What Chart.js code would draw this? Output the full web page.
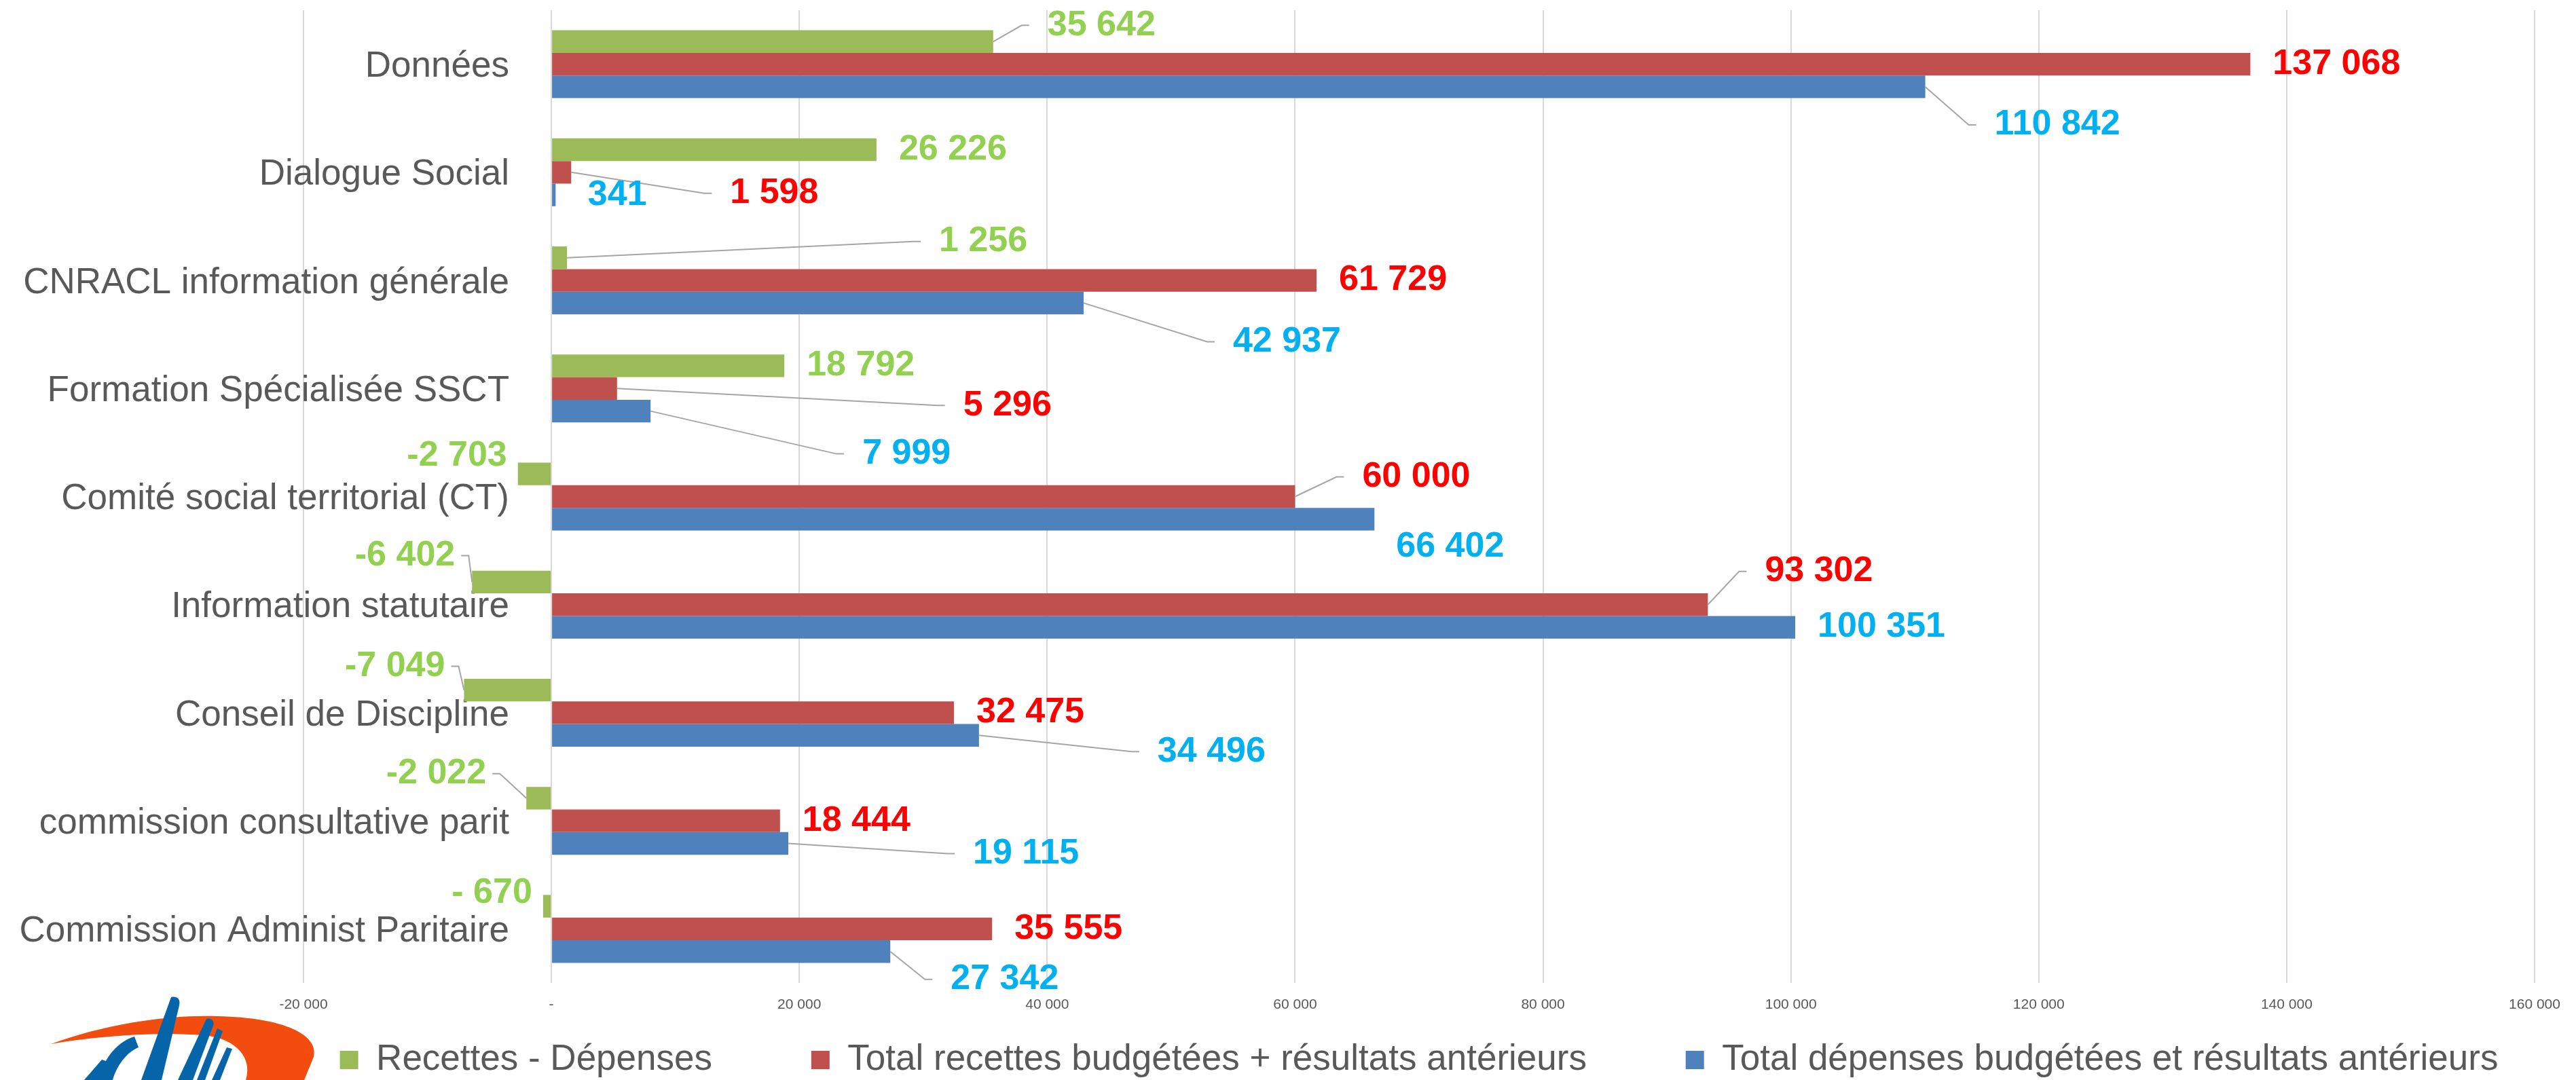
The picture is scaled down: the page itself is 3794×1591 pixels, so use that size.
<!DOCTYPE html>
<html lang="fr">
  <head>
    <meta charset="UTF-8" />
    <title>Budget par action</title>
    <script src="https://cdn.jsdelivr.net/npm/chart.js"></script>
    <style>
      body {
        margin: 0;
        background: #ffffff;
      }
      .wrap {
        position: relative;
        width: 3794px;
        height: 1591px;
      }
      .logo {
        position: absolute;
        left: 0;
        top: 1465px;
      }
    </style>
  </head>
  <body>
    <div class="wrap">
      <canvas id="myChart" width="3794" height="1591"></canvas>
      <!-- logo du bas, à peu près -->
      <svg class="logo" width="470" height="126" viewBox="0 0 470 126">
        <path
          d="M75,73 C160,42 250,30 320,32 C420,34 470,60 462,92 L448,126 L362,126 C372,95 350,65 300,60 C220,55 140,62 75,73 Z"
          fill="#F24C0F"
        />
        <path d="M252,4 C262,2 266,8 264,16 L238,126 L208,126 Z" fill="#0565A8" />
        <path d="M198,62 C170,70 150,100 146,126 L166,126 C172,104 188,84 204,78 Z" fill="#0565A8" />
        <path d="M304,36 C312,34 316,40 314,46 L284,126 L262,126 Z" fill="#0565A8" />
        <path d="M320,50 L328,54 L302,126 L290,126 Z" fill="#0565A8" />
        <path d="M334,78 L342,80 L324,126 L312,126 Z" fill="#0565A8" />
        <path d="M150,96 L162,100 L146,126 L124,126 Z" fill="#0565A8" />
      </svg>
    </div>

    <script>
      const categories = [
        "Données",
        "Dialogue Social",
        "CNRACL information générale",
        "Formation Spécialisée SSCT",
        "Comité social territorial (CT)",
        "Information statutaire",
        "Conseil de Discipline",
        "commission consultative parit",
        "Commission Administ Paritaire",
      ];
      const recettesMoinsDepenses = [35642, 26226, 1256, 18792, -2703, -6402, -7049, -2022, -670];
      const totalRecettes = [137068, 1598, 61729, 5296, 60000, 93302, 32475, 18444, 35555];
      const totalDepenses = [110842, 341, 42937, 7999, 66402, 100351, 34496, 19115, 27342];

      const xMin = -20000;
      const xMax = 160000;
      const xStep = 20000;

      // étiquettes déplacées à la main dans le classeur : [dx, dy, trait de rappel]
      // (dx depuis le bout de la barre, bord droit du texte pour les négatifs)
      const movesRecettesMoinsDepenses = [
        [80, -24, true], null, [548, -24, true], null,
        [-16, -27, false], [-25, -39, true], [-28, -35, true], [-59, -36, true], [-16, -19, false],
      ];
      const movesTotalRecettes = [
        null, [234, 31, true], null, [510, 25, true],
        [99, -29, true], [84, -49, true], null, null, null,
      ];
      const movesTotalDepenses = [
        [102, 56, true], null, [220, 57, true], [312, 63, true],
        [32, 41, false], null, [263, 24, true], [272, 15, true], [89, 41, true],
      ];
      const labelMoves = [movesRecettesMoinsDepenses, movesTotalRecettes, movesTotalDepenses];
      const labelColors = ["#92D050", "#FF0000", "#00B0F0"];

      const FONT = '"Liberation Sans", Arial, sans-serif';
      Chart.defaults.font.family = FONT;

      // libellés de catégorie alignés à droite, 62px avant le zéro (303px après le bord gauche)
      const catFontSize = 53;
      const measure = document.createElement("canvas").getContext("2d");
      measure.font = catFontSize + "px " + FONT;
      const widestCategory = Math.max(...categories.map((c) => measure.measureText(c).width));
      const catLabelRight = 303;

      // format Excel "# ##0" : l'espace littéral reste sous 1000
      function fmt(v) {
        let s = String(Math.abs(v));
        let out = "";
        while (s.length > 3) {
          out = " " + s.slice(-3) + out;
          s = s.slice(0, -3);
        }
        out = s + out;
        if (Math.abs(v) < 1000) out = " " + out;
        return (v < 0 ? "-" : "") + out;
      }

      const valueLabels = {
        id: "valueLabels",
        afterDatasetsDraw(chart) {
          const ctx = chart.ctx;
          ctx.save();
          ctx.font = "bold 52px " + FONT;
          ctx.textBaseline = "middle";
          chart.data.datasets.forEach((ds, di) => {
            const meta = chart.getDatasetMeta(di);
            meta.data.forEach((bar, i) => {
              const v = ds.data[i];
              const neg = v < 0;
              const mv = labelMoves[di][i];
              const dx = mv ? mv[0] : 33;
              const dy = mv ? mv[1] : 0;
              const tx = bar.x + dx;
              const ty = bar.y + dy;
              if (mv && mv[2]) {
                ctx.strokeStyle = "#A6A6A6";
                ctx.lineWidth = 2;
                ctx.beginPath();
                ctx.moveTo(bar.x, bar.y);
                if (neg) {
                  ctx.lineTo(tx + 20, ty);
                  ctx.lineTo(tx + 9, ty);
                } else {
                  ctx.lineTo(tx - 38, ty);
                  ctx.lineTo(tx - 27, ty);
                }
                ctx.stroke();
              }
              ctx.fillStyle = labelColors[di];
              ctx.textAlign = neg ? "right" : "left";
              ctx.fillText(fmt(v), tx, ty);
            });
          });
          ctx.restore();
        },
      };

      const ctx = document.getElementById("myChart").getContext("2d");
      const myChart = new Chart(ctx, {
        type: "bar",
        data: {
          labels: categories,
          datasets: [
            {
              label: "Recettes - Dépenses",
              data: recettesMoinsDepenses,
              backgroundColor: "#9BBB59",
              borderWidth: 0,
            },
            {
              label: "Total recettes budgétées + résultats antérieurs",
              data: totalRecettes,
              backgroundColor: "#C0504D",
              borderWidth: 0,
            },
            {
              label: "Total dépenses budgétées et résultats antérieurs",
              data: totalDepenses,
              backgroundColor: "#4F81BD",
              borderWidth: 0,
            },
          ],
        },
        options: {
          indexAxis: "y",
          responsive: false,
          animation: false,
          devicePixelRatio: 1,
          categoryPercentage: 0.628,
          barPercentage: 1,
          layout: {
            padding: { left: 447, right: 61, top: 15, bottom: -7 },
          },
          scales: {
            x: {
              min: xMin,
              max: xMax,
              ticks: {
                stepSize: xStep,
                color: "#595959",
                font: { size: 21 },
                padding: 20,
                callback: (v) => (v === 0 ? "-" : fmt(v).trim()),
              },
              grid: { color: "#D9D9D9", lineWidth: 2, drawTicks: false },
              border: { display: false },
              afterFit: (s) => {
                s.height = 59;
              },
            },
            y: {
              position: "left",
              ticks: {
                color: "#595959",
                font: { size: catFontSize },
                mirror: true,
                crossAlign: "far",
                padding: catLabelRight - widestCategory,
                labelOffset: 4,
                autoSkip: false,
              },
              grid: { display: false, drawTicks: false },
              border: { display: false },
              afterFit: (s) => {
                s.width = 0;
              },
            },
          },
          plugins: {
            legend: {
              position: "bottom",
              fullSize: false,
              labels: {
                color: "#595959",
                font: { size: 53 },
                boxWidth: 27,
                boxHeight: 27,
                padding: 28,
                generateLabels(chart) {
                  const items = Chart.defaults.plugins.legend.labels.generateLabels(chart);
                  items.forEach((it, i) => {
                    if (i < items.length - 1) it.text += "\u00a0".repeat(8);
                  });
                  return items;
                },
              },
            },
            tooltip: { enabled: false },
          },
        },
        plugins: [valueLabels],
      });
    </script>
  </body>
</html>
